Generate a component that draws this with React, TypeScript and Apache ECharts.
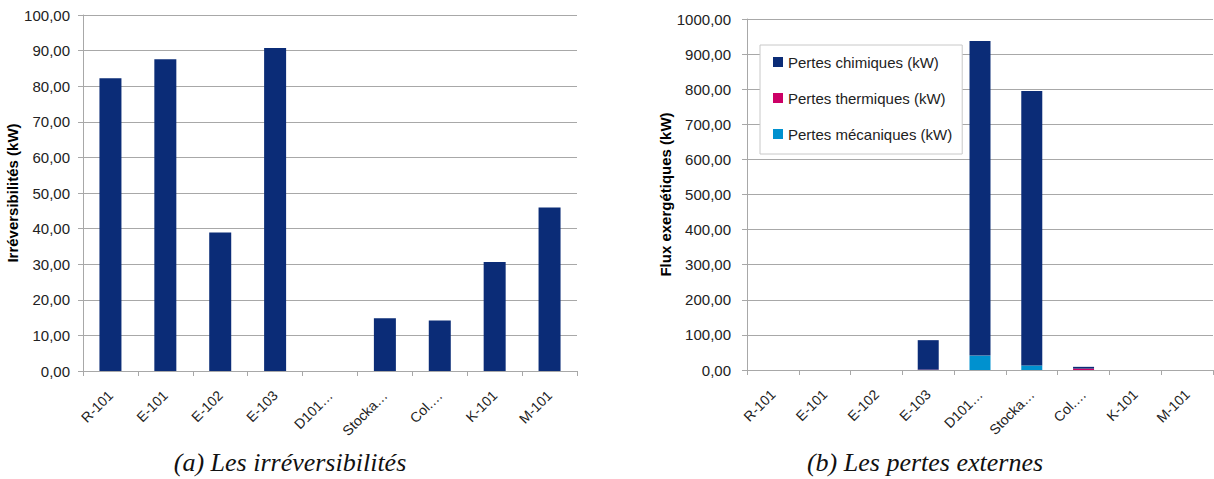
import React, { useEffect, useRef } from "react";
import * as echarts from "echarts";

const categories = ["R-101", "E-101", "E-102", "E-103", "D101…", "Stocka…", "Col.…", "K-101", "M-101"];
const irreversibilites = [82.2, 87.6, 38.9, 90.7, 0, 14.8, 14.2, 30.6, 45.9];
const pertesChimiques = [0, 0, 0, 84, 896, 782, 5, 0, 0];
const pertesThermiques = [0, 0, 0, 1, 0, 0, 4, 0, 0];
const pertesMecaniques = [0, 0, 0, 0, 41, 13, 0, 0, 0];
const leftTicks = { min: 0, max: 100, interval: 10 };
const rightTicks = { min: 0, max: 1000, interval: 100 };

const NAVY = "#0b2c77";
const PINK = "#cc0066";
const CYAN = "#0091cf";
const GRID = "#a8a8a8";
const FONT = "Liberation Sans";

const fmt = (v: number) => v.toFixed(2).replace(".", ",");

export default function App() {
  const ref = useRef<HTMLDivElement>(null);
  useEffect(() => {
    if (!ref.current) return;
    const chart = echarts.init(ref.current, undefined, { renderer: "svg" });
    const xAxisCommon = {
      type: "category" as const,
      data: categories,
      boundaryGap: true,
      axisLine: { show: true, lineStyle: { color: GRID, width: 1 } },
      axisTick: { show: true, alignWithLabel: false, length: 5, lineStyle: { color: GRID } },
      axisLabel: {
        rotate: 45,
        interval: 0,
        margin: 22,
        fontSize: 14,
        fontFamily: FONT,
        color: "#222",
      },
    };
    const yAxisCommon = {
      type: "value" as const,
      nameLocation: "middle" as const,
      nameTextStyle: { fontWeight: "bold" as const, fontSize: 15, fontFamily: FONT, color: "#000" },
      axisLine: { show: true, lineStyle: { color: GRID, width: 1 } },
      axisTick: { show: true, length: 5, lineStyle: { color: GRID } },
      splitLine: { show: true, lineStyle: { color: GRID, width: 1 } },
      axisLabel: { formatter: fmt, fontSize: 15, fontFamily: FONT, color: "#222" },
    };
    chart.setOption({
      animation: false,
      backgroundColor: "#fff",
      grid: [
        { left: 83, top: 15, width: 494, height: 356 },
        { left: 747, top: 19, width: 466, height: 351 },
      ],
      xAxis: [
        { ...xAxisCommon, gridIndex: 0 },
        { ...xAxisCommon, gridIndex: 1 },
      ],
      yAxis: [
        {
          ...yAxisCommon,
          gridIndex: 0,
          ...leftTicks,
          name: "Irréversibilités (kW)",
          nameGap: 60,
          axisLabel: { ...yAxisCommon.axisLabel, margin: 13 },
        },
        {
          ...yAxisCommon,
          gridIndex: 1,
          ...rightTicks,
          name: "Flux exergétiques (kW)",
          nameGap: 74,
          axisLabel: { ...yAxisCommon.axisLabel, margin: 16 },
        },
      ],
      legend: {
        orient: "vertical",
        left: 760,
        top: 45,
        padding: [9, 10, 12, 13],
        itemGap: 20,
        itemWidth: 10,
        itemHeight: 10,
        icon: "rect",
        borderColor: "#c8c8c8",
        borderWidth: 1,
        backgroundColor: "#fff",
        textStyle: { fontSize: 15, fontFamily: FONT, color: "#222", lineHeight: 16 },
        data: ["Pertes chimiques (kW)", "Pertes thermiques (kW)", "Pertes mécaniques (kW)"],
      },
      series: [
        {
          type: "bar",
          name: "Irréversibilités",
          xAxisIndex: 0,
          yAxisIndex: 0,
          data: irreversibilites,
          barWidth: 22,
          itemStyle: { color: NAVY },
        },
        {
          type: "bar",
          name: "Pertes mécaniques (kW)",
          xAxisIndex: 1,
          yAxisIndex: 1,
          stack: "pertes",
          data: pertesMecaniques,
          barWidth: 21,
          itemStyle: { color: CYAN },
        },
        {
          type: "bar",
          name: "Pertes thermiques (kW)",
          xAxisIndex: 1,
          yAxisIndex: 1,
          stack: "pertes",
          data: pertesThermiques,
          barWidth: 21,
          itemStyle: { color: PINK },
        },
        {
          type: "bar",
          name: "Pertes chimiques (kW)",
          xAxisIndex: 1,
          yAxisIndex: 1,
          stack: "pertes",
          data: pertesChimiques,
          barWidth: 21,
          itemStyle: { color: NAVY },
        },
      ],
      graphic: [
        {
          type: "text",
          x: 290,
          y: 462,
          style: {
            text: "(a) Les irréversibilités",
            font: 'italic 26px "Liberation Serif"',
            fill: "#111",
            textAlign: "center",
            textVerticalAlign: "middle",
          },
        },
        {
          type: "text",
          x: 925,
          y: 462,
          style: {
            text: "(b) Les pertes externes",
            font: 'italic 26px "Liberation Serif"',
            fill: "#111",
            textAlign: "center",
            textVerticalAlign: "middle",
          },
        },
      ],
    });
    return () => chart.dispose();
  }, []);
  return (
    <div
      ref={ref}
      style={{ position: "absolute", left: 0, top: 0, width: 1214, height: 479 }}
    />
  );
}
